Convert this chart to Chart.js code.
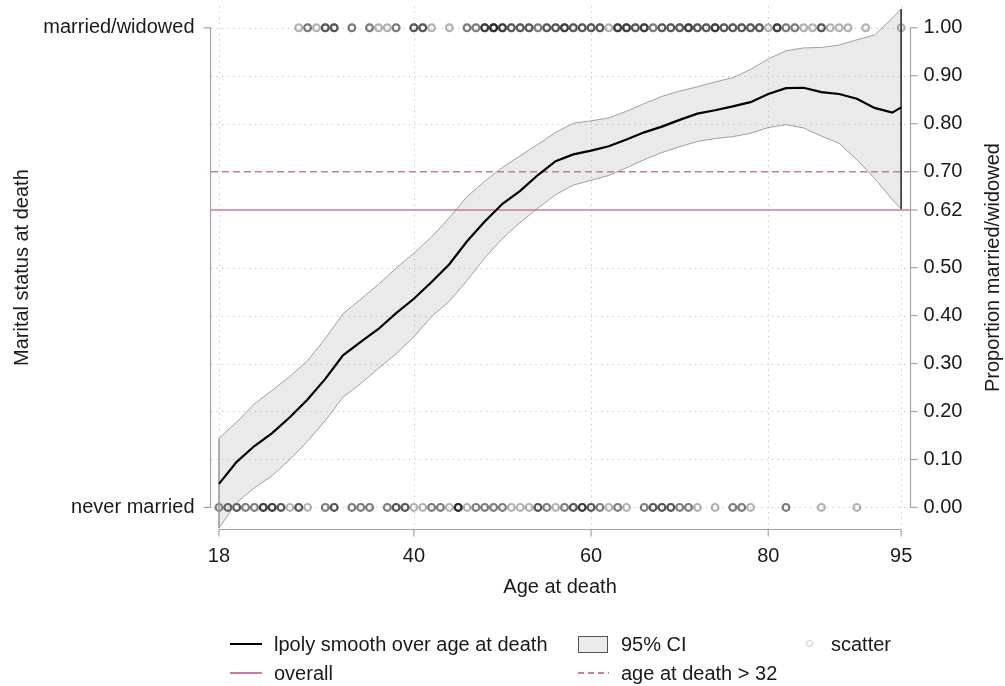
<!DOCTYPE html>
<html lang="en">
<head>
  <meta charset="UTF-8" />
  <title>Marital status by age at death</title>
  <script src="https://cdn.jsdelivr.net/npm/chart.js"></script>
  <style>
    html, body { margin: 0; padding: 0; background: #fff; }
    body { font-family: 'Liberation Sans', Arial, Helvetica, sans-serif; color: #1a1a1a; }
    #wrap { position: relative; width: 1005px; height: 686px; }
    #chart { position: absolute; left: 0; top: 0; }
    .lg { position: absolute; font-size: 20px; line-height: 20px; transform: translateY(-50%); white-space: nowrap; }
    .key { position: absolute; }
  </style>
</head>
<body>
  <div id="wrap">
    <canvas id="chart" width="1005" height="686"></canvas>

    <!-- Legend -->
    <div class="key" style="left:230px; top:643px; width:32px; height:2px; background:#000;"></div>
    <div class="lg" style="left:274px; top:644px;">lpoly smooth over age at death</div>
    <div class="key" style="left:578px; top:636px; width:28px; height:15px; background:#ebebeb; border:1px solid #555;"></div>
    <div class="lg" style="left:621px; top:644px;">95% CI</div>
    <div class="key" style="left:806px; top:640px; width:5px; height:5px; border:1.5px solid #c4c4c4; border-radius:50%;"></div>
    <div class="lg" style="left:831px; top:644px;">scatter</div>

    <div class="key" style="left:230px; top:672px; width:32px; height:1.5px; background:#cc79a7;"></div>
    <div class="lg" style="left:274px; top:673px;">overall</div>
    <div class="key" style="left:578px; top:672px; width:31px; height:1.5px; background:repeating-linear-gradient(90deg, #cc79a7 0 6px, transparent 6px 10px);"></div>
    <div class="lg" style="left:621px; top:673px;">age at death &gt; 32</div>
  </div>

  <script>
    // local polynomial smooth, evaluated on an age grid
    const ageGrid = [18, 20, 22, 24, 26, 28, 30, 32, 34, 36, 38, 40, 42, 44, 46, 48, 50, 52, 54, 56,
                     58, 60, 62, 64, 66, 68, 70, 72, 74, 76, 78, 80, 82, 84, 86, 88, 90, 92, 94, 95];
    const smoothProp = [0.049, 0.095, 0.128, 0.155, 0.188, 0.225, 0.268, 0.317, 0.345, 0.372,
                        0.405, 0.435, 0.470, 0.507, 0.555, 0.596, 0.633, 0.660, 0.693, 0.722,
                        0.736, 0.744, 0.753, 0.767, 0.782, 0.794, 0.808, 0.821, 0.828, 0.836,
                        0.845, 0.862, 0.874, 0.875, 0.866, 0.862, 0.852, 0.833, 0.823, 0.834];
    const ciUpper = [0.144, 0.178, 0.216, 0.244, 0.273, 0.306, 0.352, 0.404, 0.434, 0.465,
                     0.499, 0.530, 0.564, 0.604, 0.648, 0.680, 0.709, 0.733, 0.757, 0.782,
                     0.801, 0.806, 0.812, 0.826, 0.842, 0.857, 0.868, 0.877, 0.887, 0.896,
                     0.913, 0.935, 0.952, 0.958, 0.959, 0.964, 0.975, 0.985, 1.020, 1.039];
    const ciLower = [-0.043, 0.010, 0.041, 0.066, 0.100, 0.138, 0.181, 0.230, 0.258, 0.290,
                     0.320, 0.356, 0.398, 0.430, 0.473, 0.520, 0.561, 0.594, 0.624, 0.652,
                     0.672, 0.682, 0.692, 0.708, 0.725, 0.740, 0.752, 0.763, 0.769, 0.773,
                     0.780, 0.792, 0.798, 0.791, 0.774, 0.759, 0.725, 0.686, 0.642, 0.622];

    // individual deaths (married/widowed = 1, never married = 0): age and number of people
    const marriedAges   = [27, 28, 29, 30, 31, 33, 35, 36, 37, 38, 40, 41, 42, 44, 46, 47, 48, 49, 50, 51,
                           52, 53, 54, 55, 56, 57, 58, 59, 60, 61, 62, 63, 64, 65, 66, 67, 68, 69, 70, 71,
                           72, 73, 74, 75, 76, 77, 78, 79, 80, 81, 82, 83, 84, 85, 86, 87, 88, 89, 91, 95];
    const marriedCounts = [1, 2, 1, 3, 3, 2, 2, 1, 1, 2, 3, 3, 1, 1, 2, 2, 4, 5, 4, 3,
                           3, 3, 2, 3, 3, 4, 3, 3, 3, 3, 1, 4, 4, 3, 4, 2, 3, 3, 3, 4,
                           3, 3, 4, 3, 3, 3, 3, 3, 1, 4, 2, 2, 1, 1, 3, 1, 1, 1, 1, 1];
    const neverAges   = [18, 19, 20, 21, 22, 23, 24, 25, 26, 27, 28, 30, 31, 33, 34, 35, 37, 38, 39, 40,
                         41, 42, 43, 44, 45, 46, 47, 48, 49, 50, 51, 52, 53, 54, 55, 56, 57, 58, 59, 60,
                         61, 62, 63, 64, 66, 67, 68, 69, 70, 71, 72, 74, 76, 77, 78, 82, 86, 90];
    const neverCounts = [2, 3, 3, 2, 2, 4, 4, 3, 1, 3, 1, 2, 3, 2, 2, 2, 2, 3, 3, 1,
                         1, 2, 2, 1, 5, 1, 2, 2, 2, 2, 1, 1, 1, 3, 2, 1, 2, 3, 4, 3,
                         2, 1, 2, 1, 2, 3, 3, 3, 2, 2, 1, 1, 2, 2, 1, 2, 1, 1];

    const overallProp = 0.62;
    const subgroupProp = 0.70;

    const xTicks = [18, 40, 60, 80, 95];
    const yTicks = [0, 0.1, 0.2, 0.3, 0.4, 0.5, 0.62, 0.7, 0.8, 0.9, 1.0];
    const yTickLabels = ['0.00', '0.10', '0.20', '0.30', '0.40', '0.50', '0.62', '0.70', '0.80', '0.90', '1.00'];
    const statusLabels = ['never married', 'married/widowed'];

    const xMin = 17.1, xMax = 96.0, yMin = -0.045, yMax = 1.045;
    const FONT = '20px "Liberation Sans", Arial, Helvetica, sans-serif';
    const pink = '#cc79a7';

    function expand(ages, counts, yv) {
      const pts = [];
      ages.forEach((a, i) => { for (let k = 0; k < counts[i]; k++) pts.push({ x: a, y: yv }); });
      return pts;
    }
    const scatterPts = expand(marriedAges, marriedCounts, 1).concat(expand(neverAges, neverCounts, 0));
    const pairs = (ys) => ageGrid.map((a, i) => ({ x: a, y: ys[i] }));

    const stataAxes = {
      id: 'stataAxes',
      beforeDatasetsDraw(chart) {
        const { ctx, chartArea: ca, scales: { x, y } } = chart;
        ctx.save();
        ctx.strokeStyle = '#c2c2c2';
        ctx.lineWidth = 1;
        ctx.setLineDash([1.2, 4.3]);
        xTicks.forEach(v => {
          const px = Math.round(x.getPixelForValue(v)) + 0.5;
          ctx.beginPath(); ctx.moveTo(px, ca.top); ctx.lineTo(px, ca.bottom); ctx.stroke();
        });
        yTicks.forEach(v => {
          if (v === overallProp || v === subgroupProp) return;
          const py = Math.round(y.getPixelForValue(v)) + 0.5;
          ctx.beginPath(); ctx.moveTo(ca.left, py); ctx.lineTo(ca.right, py); ctx.stroke();
        });
        ctx.restore();
      },
      afterDraw(chart) {
        const { ctx, chartArea: ca, scales: { x, y } } = chart;
        ctx.save();
        ctx.strokeStyle = '#a4a4a4';
        ctx.lineWidth = 1.2;
        const y0 = y.getPixelForValue(0), y1 = y.getPixelForValue(1);
        const lx = ca.left - 0.5, rx = ca.right + 0.5, by = ca.bottom + 0.5;

        // left axis
        ctx.beginPath(); ctx.moveTo(lx, y1); ctx.lineTo(lx, y0); ctx.stroke();
        [0, 1].forEach(v => {
          const py = y.getPixelForValue(v);
          ctx.beginPath(); ctx.moveTo(lx - 7, py); ctx.lineTo(lx, py); ctx.stroke();
        });
        // right axis
        ctx.beginPath(); ctx.moveTo(rx, y1); ctx.lineTo(rx, y0); ctx.stroke();
        yTicks.forEach(v => {
          const py = y.getPixelForValue(v);
          ctx.beginPath(); ctx.moveTo(rx, py); ctx.lineTo(rx + 7, py); ctx.stroke();
        });
        // bottom axis
        ctx.beginPath(); ctx.moveTo(x.getPixelForValue(18), by); ctx.lineTo(x.getPixelForValue(95), by); ctx.stroke();
        xTicks.forEach(v => {
          const px = x.getPixelForValue(v);
          ctx.beginPath(); ctx.moveTo(px, by); ctx.lineTo(px, by + 7); ctx.stroke();
        });

        ctx.fillStyle = '#1a1a1a';
        ctx.font = FONT;
        ctx.textBaseline = 'middle';
        ctx.textAlign = 'right';
        ctx.fillText(statusLabels[0], lx - 16, y0);
        ctx.fillText(statusLabels[1], lx - 16, y1);
        ctx.textAlign = 'left';
        yTicks.forEach((v, i) => ctx.fillText(yTickLabels[i], rx + 13, y.getPixelForValue(v)));
        ctx.textAlign = 'center';
        xTicks.forEach(v => ctx.fillText(String(v), x.getPixelForValue(v), by + 27));
        ctx.fillText('Age at death', (x.getPixelForValue(18) + x.getPixelForValue(95)) / 2, by + 58);

        const ym = (y0 + y1) / 2;
        ctx.save(); ctx.translate(22, ym); ctx.rotate(-Math.PI / 2);
        ctx.fillText('Marital status at death', 0, 0); ctx.restore();
        ctx.save(); ctx.translate(993, ym); ctx.rotate(-Math.PI / 2);
        ctx.fillText('Proportion married/widowed', 0, 0); ctx.restore();
        ctx.restore();
      }
    };

    new Chart(document.getElementById('chart'), {
      type: 'scatter',
      data: {
        datasets: [
          {
            type: 'line', label: 'overall', order: 60,
            data: [{ x: xMin, y: overallProp }, { x: xMax, y: overallProp }],
            borderColor: pink, borderWidth: 1.5, pointRadius: 0, fill: false
          },
          {
            type: 'line', label: 'age at death > 32', order: 59,
            data: [{ x: xMin, y: subgroupProp }, { x: xMax, y: subgroupProp }],
            borderColor: pink, borderWidth: 1.5, borderDash: [7, 4], pointRadius: 0, fill: false
          },
          {
            label: 'scatter', order: 50,
            data: scatterPts,
            pointStyle: 'circle', pointRadius: 3.4, pointBorderWidth: 2.2,
            backgroundColor: 'rgba(0,0,0,0)', borderColor: 'rgba(0,0,0,0.3)'
          },
          {
            type: 'line', label: '95% CI', order: 40,
            data: pairs(ciUpper),
            borderColor: '#8c8c8c', borderWidth: 0.8, pointRadius: 0, tension: 0,
            fill: '+1', backgroundColor: 'rgba(140,140,140,0.18)'
          },
          {
            type: 'line', label: 'ci lower', order: 39,
            data: pairs(ciLower),
            borderColor: '#8c8c8c', borderWidth: 0.8, pointRadius: 0, tension: 0, fill: false
          },
          {
            type: 'line', label: 'ci left edge', order: 38,
            data: [{ x: ageGrid[0], y: ciUpper[0] }, { x: ageGrid[0], y: ciLower[0] }],
            borderColor: '#9a9a9a', borderWidth: 0.8, pointRadius: 0, fill: false
          },
          {
            type: 'line', label: 'ci right edge', order: 37,
            data: [{ x: ageGrid[ageGrid.length - 1], y: ciUpper[ciUpper.length - 1] },
                   { x: ageGrid[ageGrid.length - 1], y: ciLower[ciLower.length - 1] }],
            borderColor: '#333', borderWidth: 0.9, pointRadius: 0, fill: false
          },
          {
            type: 'line', label: 'lpoly smooth over age at death', order: 10,
            data: pairs(smoothProp),
            borderColor: '#000', borderWidth: 2.2, pointRadius: 0, tension: 0, fill: false
          }
        ]
      },
      options: {
        responsive: false,
        animation: false,
        layout: { padding: { left: 211, right: 95, top: 5, bottom: 157 } },
        scales: {
          x: { type: 'linear', min: xMin, max: xMax, display: false },
          y: { type: 'linear', min: yMin, max: yMax, display: false }
        },
        plugins: {
          legend: { display: false },
          tooltip: { enabled: false }
        }
      },
      plugins: [stataAxes]
    });
  </script>
</body>
</html>
